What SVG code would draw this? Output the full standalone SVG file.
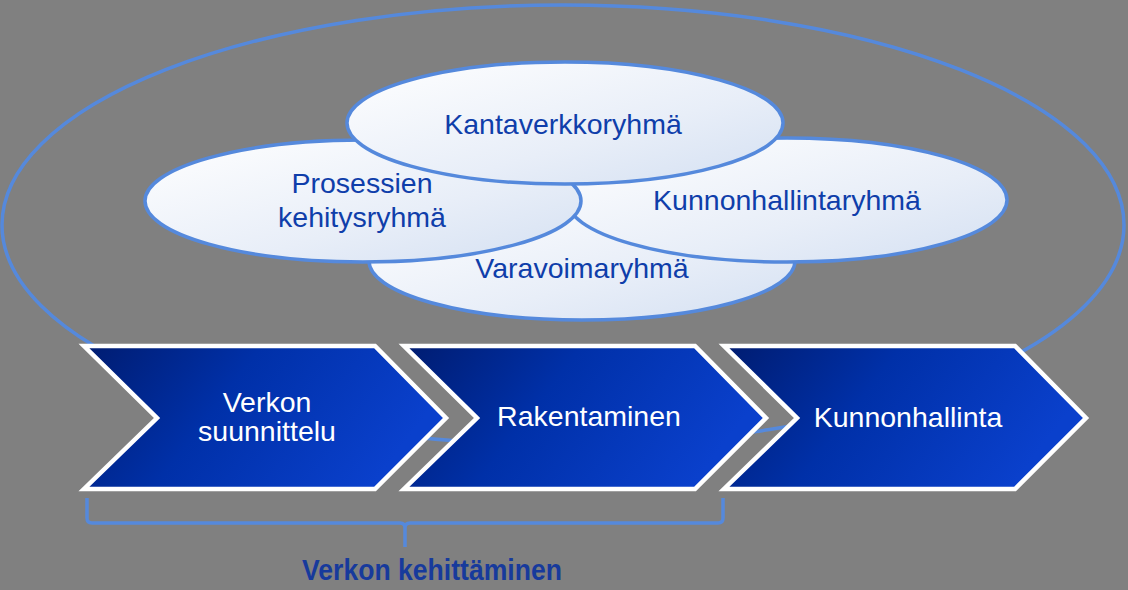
<svg xmlns="http://www.w3.org/2000/svg" width="1128" height="590" viewBox="0 0 1128 590">
<defs>
<linearGradient id="eg" x1="0" y1="0" x2="1" y2="1">
<stop offset="0" stop-color="#ffffff"/>
<stop offset="0.6" stop-color="#e8eef8"/>
<stop offset="1" stop-color="#d4e0f2"/>
</linearGradient>
<linearGradient id="cg" x1="0" y1="0" x2="1" y2="0.3">
<stop offset="0" stop-color="#001c70"/>
<stop offset="0.45" stop-color="#0030a8"/>
<stop offset="1" stop-color="#0a40cc"/>
</linearGradient>
<style>
.el{fill:url(#eg);stroke:#5589dc;stroke-width:3.5}
.ch{fill:url(#cg);stroke:#ffffff;stroke-width:4.5;stroke-linejoin:miter}
.et{font-family:"Liberation Sans",Arial,sans-serif;font-size:28.5px;fill:#0f3eaa;text-anchor:middle}
.ct{font-family:"Liberation Sans",Arial,sans-serif;font-size:28.5px;fill:#ffffff;text-anchor:middle}
.bt{font-family:"Liberation Sans",Arial,sans-serif;font-size:29px;font-weight:bold;fill:#173a9c;text-anchor:middle}
.ln{fill:none;stroke:#5589dc;stroke-width:3.5}
</style>
</defs>
<rect width="1128" height="590" fill="#808080"/>
<g id="connectors">
<ellipse class="ln" cx="563" cy="225" rx="561" ry="220"/>
<path class="ln" d="M87,498 V518 Q87,523 92,523 H400 Q405,523 405,528 V547 M405,528 Q405,523 410,523 H718 Q723,523 723,518 V498"/>
</g>
<g id="varavoimaryhma">
<ellipse class="el" cx="582" cy="261" rx="213" ry="59"/>
<text class="et" x="582" y="278">Varavoimaryhmä</text>
</g>
<g id="kunnonhallintaryhma">
<ellipse class="el" cx="787" cy="200" rx="220" ry="62"/>
<text class="et" x="787" y="210">Kunnonhallintaryhmä</text>
</g>
<g id="prosessien">
<ellipse class="el" cx="363" cy="201" rx="218" ry="61"/>
<text class="et" x="362" y="193">Prosessien</text>
<text class="et" x="362" y="227">kehitysryhmä</text>
</g>
<g id="kantaverkkoryhma">
<ellipse class="el" cx="565" cy="123" rx="218" ry="61"/>
<text class="et" x="563" y="134">Kantaverkkoryhmä</text>
</g>
<g id="verkon-suunnittelu">
<path class="ch" d="M84,346 H375 L446,418 L375,489 H84 L157,418 Z"/>
<text class="ct" x="267" y="412">Verkon</text>
<text class="ct" x="267" y="441">suunnittelu</text>
</g>
<g id="rakentaminen">
<path class="ch" d="M404,346 H695 L766,418 L695,489 H404 L477,418 Z"/>
<text class="ct" x="589" y="426">Rakentaminen</text>
</g>
<g id="kunnonhallinta">
<path class="ch" d="M724,346 H1015 L1086,418 L1015,489 H724 L797,418 Z"/>
<text class="ct" x="908" y="427">Kunnonhallinta</text>
</g>
<g id="verkon-kehittaminen">
<text class="bt" x="432" y="580" textLength="260" lengthAdjust="spacingAndGlyphs">Verkon kehittäminen</text>
</g>
</svg>
